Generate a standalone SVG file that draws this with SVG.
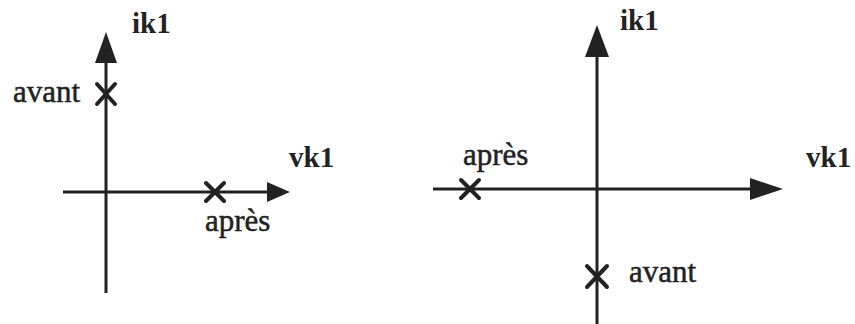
<svg xmlns="http://www.w3.org/2000/svg" width="855" height="324" viewBox="0 0 855 324">
<style>
.ax{stroke:#222;stroke-width:3;fill:none}
.hd{fill:#222;stroke:none}
.x{stroke:#222;stroke-width:4;stroke-linecap:round;fill:none}
.t{font-family:"Liberation Serif","Times New Roman",serif;font-size:29px;fill:#222}
.r{font-size:31px;stroke:#222;stroke-width:0.5}
.b{font-weight:bold}
</style>
<rect width="855" height="324" fill="#fff"/>
<g id="connectors">
<line class="ax" x1="106" y1="293" x2="106" y2="60"/>
<polygon class="hd" points="106,32 95,63 117,63"/>
<line class="ax" x1="63" y1="192" x2="270" y2="192"/>
<polygon class="hd" points="290,192 267,182 267,202"/>
<line class="ax" x1="597" y1="324" x2="597" y2="54"/>
<polygon class="hd" points="597,25 585,57 609,57"/>
<line class="ax" x1="433" y1="189" x2="753" y2="189"/>
<polygon class="hd" points="783,189 750,178 750,200"/>
</g>
<g id="left-ik1"><text class="t b" x="132" y="33">ik1</text></g>
<g id="left-vk1"><text class="t b" x="289" y="167">vk1</text></g>
<g id="left-avant">
<path class="x" d="M97,84 L115,104 M115,84 L97,104"/>
<text class="t r" x="13" y="102">avant</text>
</g>
<g id="left-apres">
<path class="x" d="M206,183 L224,201 M224,183 L206,201"/>
<text class="t r" x="205" y="231">après</text>
</g>
<g id="right-ik1"><text class="t b" x="620" y="30">ik1</text></g>
<g id="right-vk1"><text class="t b" x="806" y="167">vk1</text></g>
<g id="right-apres">
<path class="x" d="M461,180 L479,198 M479,180 L461,198"/>
<text class="t r" x="463" y="165">après</text>
</g>
<g id="right-avant">
<path class="x" d="M587,266 L607,287 M607,266 L587,287"/>
<text class="t r" x="629" y="282">avant</text>
</g>
</svg>
